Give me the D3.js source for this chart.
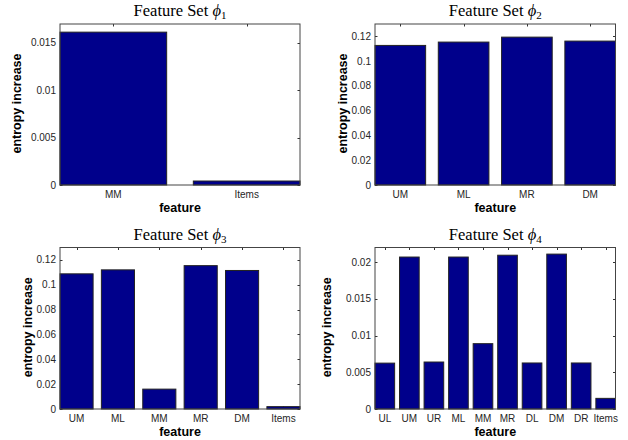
<!DOCTYPE html>
<html>
<head>
<meta charset="utf-8">
<script src="https://cdn.jsdelivr.net/npm/d3@7"></script>
<style>
  html, body { margin: 0; padding: 0; background: #fff; }
  svg { display: block; }
</style>
</head>
<body>
<svg id="chart" width="628" height="440"></svg>
<script>
// ---- data ----
const cats1 = ["MM", "Items"];
const vals1 = [0.01614, 0.00042];
const ticks1 = [0, 0.005, 0.01, 0.015];
const ymax1 = 0.017;

const cats2 = ["UM", "ML", "MR", "DM"];
const vals2 = [0.1127, 0.1154, 0.1194, 0.1162];
const ticks2 = [0, 0.02, 0.04, 0.06, 0.08, 0.1, 0.12];
const ymax2 = 0.13;

const cats3 = ["UM", "ML", "MM", "MR", "DM", "Items"];
const vals3 = [0.1088, 0.1120, 0.0160, 0.1154, 0.1115, 0.0019];
const ticks3 = [0, 0.02, 0.04, 0.06, 0.08, 0.1, 0.12];
const ymax3 = 0.13;

const cats4 = ["UL", "UM", "UR", "ML", "MM", "MR", "DL", "DM", "DR", "Items"];
const vals4 = [0.00625, 0.0207, 0.0064, 0.0207, 0.0089, 0.02095, 0.00627, 0.0211, 0.00627, 0.00145];
const ticks4 = [0, 0.005, 0.01, 0.015, 0.02];
const ymax4 = 0.022;

const titleNums = ["1", "2", "3", "4"];

// ---- layout ----
const svg = d3.select("#chart");
const panels = [
  {cats: cats1, vals: vals1, ticks: ticks1, ymax: ymax1, x0: 60,  x1: 300,   y0: 24,    y1: 185,  ylabX: 17,  num: titleNums[0]},
  {cats: cats2, vals: vals2, ticks: ticks2, ymax: ymax2, x0: 375, x1: 615.5, y0: 24,    y1: 185,  ylabX: 343, num: titleNums[1]},
  {cats: cats3, vals: vals3, ticks: ticks3, ymax: ymax3, x0: 60,  x1: 300,   y0: 247.5, y1: 409,  ylabX: 27.5, num: titleNums[2]},
  {cats: cats4, vals: vals4, ticks: ticks4, ymax: ymax4, x0: 375, x1: 615.5, y0: 247.5, y1: 409,  ylabX: 327, num: titleNums[3]}
];

const fmt = d => String(+d.toFixed(4));
const tickFont = "'Liberation Sans', Arial, sans-serif";

panels.forEach(p => {
  const g = svg.append("g");
  const x = d3.scaleBand().domain(p.cats).range([p.x0, p.x1]).paddingInner(0.2).paddingOuter(0);
  const y = d3.scaleLinear().domain([0, p.ymax]).range([p.y1, p.y0]);
  const tl = 2.5;

  // ticks (drawn beneath bars)
  const tk = g.append("g").attr("stroke", "#333").attr("stroke-width", 1);
  p.cats.forEach(c => {
    const cx = Math.round(x(c) + x.bandwidth() / 2) + 0.5;
    tk.append("line").attr("x1", cx).attr("x2", cx).attr("y1", p.y0).attr("y2", p.y0 + tl);
    tk.append("line").attr("x1", cx).attr("x2", cx).attr("y1", p.y1).attr("y2", p.y1 - tl);
  });
  p.ticks.forEach(t => {
    const ty = Math.round(y(t)) + 0.5;
    tk.append("line").attr("x1", p.x0).attr("x2", p.x0 + tl).attr("y1", ty).attr("y2", ty);
    tk.append("line").attr("x1", p.x1).attr("x2", p.x1 - tl).attr("y1", ty).attr("y2", ty);
  });

  // bars
  g.append("g").selectAll("rect").data(p.vals).join("rect")
    .attr("x", (d, i) => x(p.cats[i]))
    .attr("width", x.bandwidth())
    .attr("y", d => y(d))
    .attr("height", d => y(0) - y(d))
    .attr("fill", "#00008b")
    .attr("stroke", "#222")
    .attr("stroke-width", 1);

  // box
  g.append("rect")
    .attr("x", p.x0).attr("y", p.y0)
    .attr("width", p.x1 - p.x0).attr("height", p.y1 - p.y0)
    .attr("fill", "none").attr("stroke", "#444").attr("stroke-width", 1);

  // y tick labels
  g.append("g").selectAll("text").data(p.ticks).join("text")
    .attr("x", p.x0 - 4)
    .attr("y", d => y(d))
    .attr("dy", "0.35em")
    .attr("text-anchor", "end")
    .attr("font-family", tickFont)
    .attr("font-size", 10)
    .attr("fill", "#262626")
    .text(fmt);

  // x tick labels
  g.append("g").selectAll("text").data(p.cats).join("text")
    .attr("x", d => x(d) + x.bandwidth() / 2)
    .attr("y", p.y1 + 12.5)
    .attr("text-anchor", "middle")
    .attr("font-family", tickFont)
    .attr("font-size", 10)
    .attr("fill", "#262626")
    .text(d => d);

  // x label
  g.append("text")
    .attr("x", (p.x0 + p.x1) / 2)
    .attr("y", p.y1 + 27)
    .attr("text-anchor", "middle")
    .attr("font-family", tickFont)
    .attr("font-weight", "bold")
    .attr("font-size", 12.5)
    .attr("fill", "#000")
    .text("feature");

  // y label
  const ym = (p.y0 + p.y1) / 2 - 1;
  g.append("text")
    .attr("transform", `translate(${p.ylabX},${ym}) rotate(-90)`)
    .attr("dy", "0.35em")
    .attr("text-anchor", "middle")
    .attr("font-family", tickFont)
    .attr("font-weight", "bold")
    .attr("font-size", 12.5)
    .attr("fill", "#000")
    .text("entropy increase");

  // title
  const t = g.append("text")
    .attr("x", (p.x0 + p.x1) / 2)
    .attr("y", p.y0 - 8)
    .attr("text-anchor", "middle")
    .attr("font-family", "'Liberation Serif', 'DejaVu Serif', serif")
    .attr("font-size", 16.5)
    .attr("fill", "#000");
  t.append("tspan").text("Feature Set ");
  t.append("tspan").attr("font-style", "italic").text("\u03D5");
  t.append("tspan").attr("font-size", 11).attr("dy", 3).text(p.num);
});
</script>
</body>
</html>
